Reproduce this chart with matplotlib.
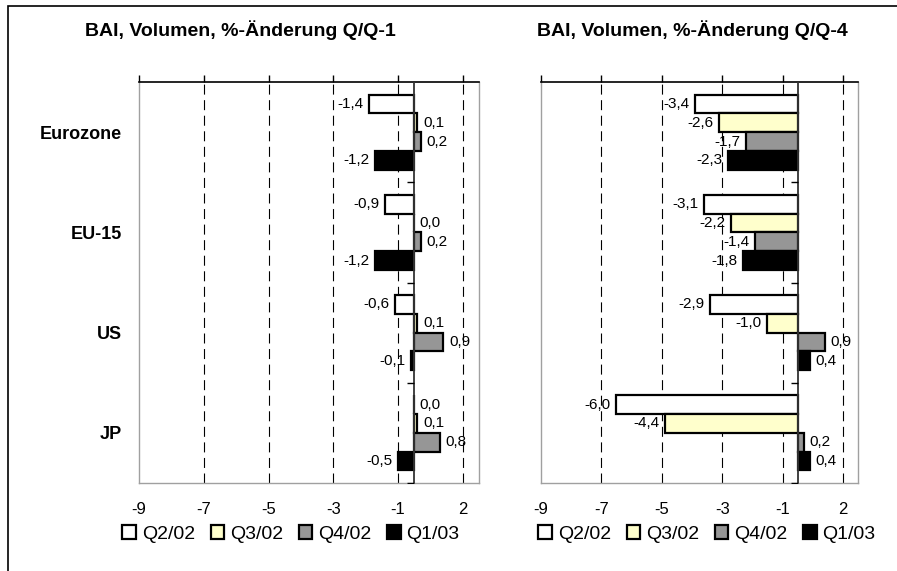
import numpy as np
import matplotlib
matplotlib.use("Agg")
import matplotlib.pyplot as plt
from matplotlib.patches import Patch, Rectangle

plt.rcParams['font.family'] = ['Liberation Sans', 'DejaVu Sans']

regions = ["Eurozone", "EU-15", "US", "JP"]
series = ["Q2/02", "Q3/02", "Q4/02", "Q1/03"]
colors = ["#FFFFFF", "#FFFFCC", "#969696", "#000000"]

# Q/Q-1 changes (one list per series, values per region)
qq1_q2_02 = [-1.4, -0.9, -0.6, 0.0]
qq1_q3_02 = [0.1, 0.0, 0.1, 0.1]
qq1_q4_02 = [0.2, 0.2, 0.9, 0.8]
qq1_q1_03 = [-1.2, -1.2, -0.1, -0.5]

# Q/Q-4 changes
qq4_q2_02 = [-3.4, -3.1, -2.9, -6.0]
qq4_q3_02 = [-2.6, -2.2, -1.0, -4.4]
qq4_q4_02 = [-1.7, -1.4, 0.9, 0.2]
qq4_q1_03 = [-2.3, -1.8, 0.4, 0.4]

tick_labels = ["-9", "-7", "-5", "-3", "-1", "2"]
tick_pos = np.arange(-8.5, 2.0, 2.0)

titles = ["BAI, Volumen, %-Änderung Q/Q-1", "BAI, Volumen, %-Änderung Q/Q-4"]

W, H = 897, 571
fig = plt.figure(figsize=(W / 100, H / 100), dpi=100)

# outer frame (only left/top visible in the reference)
fig.patches.append(Rectangle((8 / W, -0.1), 1.2, 1 - 6 / H + 0.1, transform=fig.transFigure,
                             fill=False, edgecolor="black", linewidth=1.2))

def fpos(x0, x1, y0, y1):
    return [x0 / W, 1 - y1 / H, (x1 - x0) / W, (y1 - y0) / H]

axes_px = [(139, 479, 82, 483), (541, 858, 82, 483)]
datasets = [[qq1_q2_02, qq1_q3_02, qq1_q4_02, qq1_q1_03],
            [qq4_q2_02, qq4_q3_02, qq4_q4_02, qq4_q1_03]]
title_x = [240, 692]
legend_x = [291, 707]

bar_h = 0.1875
n = len(regions)
idx = np.arange(n)

for k, (px, data) in enumerate(zip(axes_px, datasets)):
    ax = fig.add_axes(fpos(*px))
    ax.set_xlim(-8.5, 2.0)
    ax.set_ylim(n - 0.5, -0.5)
    for xv in tick_pos[1:]:
        ax.axvline(xv, color="black", lw=0.8, linestyle=(0, (9, 5)), zorder=0)
    for j, vals in enumerate(data):
        y = idx + (j - 1.5) * bar_h
        ax.barh(y, vals, height=bar_h, color=colors[j], edgecolor="black",
                linewidth=1.6, zorder=3)
        for yy, v in zip(y, vals):
            txt = f"{v:.1f}".replace(".", ",")
            if v < 0:
                ax.annotate(txt, (v, yy), xytext=(-4, 0), textcoords="offset points",
                            ha="right", va="center", fontsize=11, zorder=5)
            else:
                ax.annotate(txt, (v, yy), xytext=(4, 0), textcoords="offset points",
                            ha="left", va="center", fontsize=11, zorder=5)
    # zero line and category ticks
    ax.axvline(0, color="#333333", lw=1.3, zorder=4)
    bounds = np.arange(0.5, n, 1.0)
    ax.plot(np.zeros(len(bounds)), bounds, marker=0, ls="none", ms=5,
            mew=1, color="black", zorder=4)

    for s in ["left", "right", "bottom"]:
        ax.spines[s].set_color("#A0A0A0")
        ax.spines[s].set_linewidth(1.0)
    ax.spines["top"].set_color("black")
    ax.spines["top"].set_linewidth(1.2)

    ax.set_xticks(tick_pos)
    ax.set_xticklabels(tick_labels, fontsize=12)
    ax.tick_params(axis="x", top=True, bottom=False, labeltop=False, labelbottom=True,
                   direction="out", length=5, width=1, pad=8.5)
    ax.set_yticks(idx)
    if k == 0:
        ax.set_yticklabels(regions, fontsize=13, fontweight="bold")
        ax.tick_params(axis="y", length=0, pad=12)
    else:
        ax.set_yticklabels([])
        ax.tick_params(axis="y", length=0)

    fig.text(title_x[k] / W, 1 - 30 / H, titles[k], ha="center", va="center",
             fontsize=14, fontweight="bold")

    handles = [Patch(facecolor=c, edgecolor="black", linewidth=1.6) for c in colors]
    fig.legend(handles, series, loc="center", bbox_to_anchor=(legend_x[k] / W, 1 - 534 / H),
               ncol=4, frameon=False, fontsize=14, handlelength=0.7, handleheight=0.7,
               handletextpad=0.3, columnspacing=0.8, borderpad=0)

fig.savefig("out.png", dpi=100)
